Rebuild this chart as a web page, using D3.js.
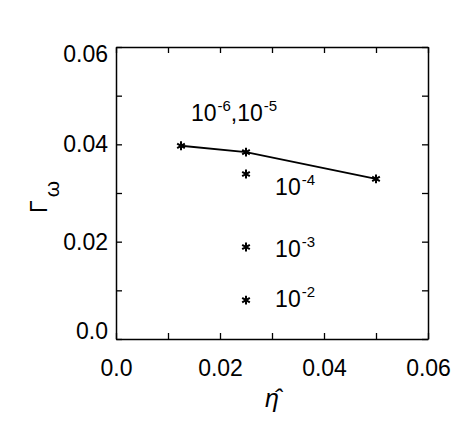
<!DOCTYPE html>
<html>
<head>
<meta charset="utf-8">
<script src="https://cdn.jsdelivr.net/npm/d3@7"></script>
<style>
  body { margin: 0; background: #fff; }
  text { font-family: "Liberation Sans", Arial, sans-serif; fill: #000; }
</style>
</head>
<body>
<div id="chart"></div>
<script>
// data
var etaLine = [0.0125, 0.025, 0.05];
var gammaLine = [0.0397, 0.0384, 0.0329];
var etaPts = [0.0125, 0.025, 0.05, 0.025, 0.025, 0.025];
var gammaPts = [0.0397, 0.0384, 0.0329, 0.0339, 0.0189, 0.0080];
var tickVals = [0, 0.01, 0.02, 0.03, 0.04, 0.05, 0.06];
var tickLabels = ["0.0", "", "0.02", "", "0.04", "", "0.06"];
var annBase = ["10", "10"];
var annExp = [["-6", "-5"], ["-4"], ["-3"], ["-2"]];
var annEta = [0.0144, 0.0306, 0.0306, 0.0306];
var annGamma = [0.0448, 0.0296, 0.0168, 0.0066];

var svgWidth = 463, svgHeight = 436;
var margin = {top: 47, right: 35, bottom: 97, left: 116};
var width = svgWidth - margin.left - margin.right;
var height = svgHeight - margin.top - margin.bottom;

var svg = d3.select("#chart").append("svg")
    .attr("width", svgWidth)
    .attr("height", svgHeight);

var g = svg.append("g")
    .attr("transform", `translate(${margin.left}, ${margin.top})`);

var x = d3.scaleLinear().domain([0, 0.06]).range([0, width]);
var y = d3.scaleLinear().domain([0, 0.06]).range([height, 0]);

function fmt(d, i) { return tickLabels[i]; }

// axes, ticks inward on all four sides
var xb = g.append("g").attr("transform", `translate(0, ${height})`)
    .call(d3.axisBottom(x).tickValues(tickVals).tickFormat(fmt).tickSizeInner(-6).tickSizeOuter(0).tickPadding(21));
var xt = g.append("g")
    .call(d3.axisTop(x).tickValues(tickVals).tickFormat("").tickSizeInner(-6).tickSizeOuter(0));
var yl = g.append("g")
    .call(d3.axisLeft(y).tickValues(tickVals).tickFormat(fmt).tickSizeInner(-6).tickSizeOuter(0).tickPadding(8));
var yr = g.append("g").attr("transform", `translate(${width}, 0)`)
    .call(d3.axisRight(y).tickValues(tickVals).tickFormat("").tickSizeInner(-6).tickSizeOuter(0));

g.selectAll(".domain").attr("stroke", "#000").attr("stroke-width", 1.5);
g.selectAll(".tick line").attr("stroke", "#000").attr("stroke-width", 1.3);
g.selectAll(".tick text").attr("font-size", 23).attr("font-family", "Liberation Sans, Arial, sans-serif");

// end labels on the y axis sit a little inside the frame
yl.selectAll(".tick text")
    .attr("dy", (d, i) => i === 0 ? "-0.03em" : (i === tickVals.length - 1 ? "0.62em" : "0.32em"));

// line
var line = d3.line().x((d, i) => x(etaLine[i])).y((d, i) => y(gammaLine[i]));
g.append("path")
    .datum(etaLine)
    .attr("d", line)
    .attr("fill", "none")
    .attr("stroke", "#000")
    .attr("stroke-width", 2);

// asterisk markers
var sym = d3.symbol().type(d3.symbolAsterisk).size(55);
g.selectAll(".pt")
    .data(etaPts)
    .enter()
    .append("path")
    .attr("class", "pt")
    .attr("transform", (d, i) => `translate(${x(d)}, ${y(gammaPts[i])})`)
    .attr("d", sym)
    .attr("fill", "none")
    .attr("stroke", "#000")
    .attr("stroke-width", 2);

// annotations
annExp.forEach(function(exps, k) {
    var t = g.append("text")
        .attr("x", x(annEta[k]))
        .attr("y", y(annGamma[k]))
        .attr("font-size", 23);
    exps.forEach(function(e, j) {
        if (j > 0) t.append("tspan").attr("dy", 10).text(",");
        t.append("tspan").attr("dy", j > 0 ? 0 : null).text(annBase[j]);
        t.append("tspan").attr("font-size", 15).attr("dx", 1).attr("dy", -10).text(e);
    });
});

// axis titles (eta with a combining hat, one glyph cluster)
g.append("text")
    .attr("x", width / 2)
    .attr("y", height + 68)
    .attr("text-anchor", "middle")
    .attr("font-size", 25)
    .attr("font-family", "Noto Sans, sans-serif")
    .attr("font-style", "italic")
    .text("\u03B7\u0302");

var yt = g.append("text")
    .attr("transform", `translate(${-69}, ${height / 2 + 4}) rotate(-90)`)
    .attr("text-anchor", "middle")
    .attr("font-size", 23);
yt.append("tspan").text("\u0393");
yt.append("tspan").attr("font-size", 21).attr("dx", 3).attr("dy", 12).text("\u03C9");
</script>
</body>
</html>
